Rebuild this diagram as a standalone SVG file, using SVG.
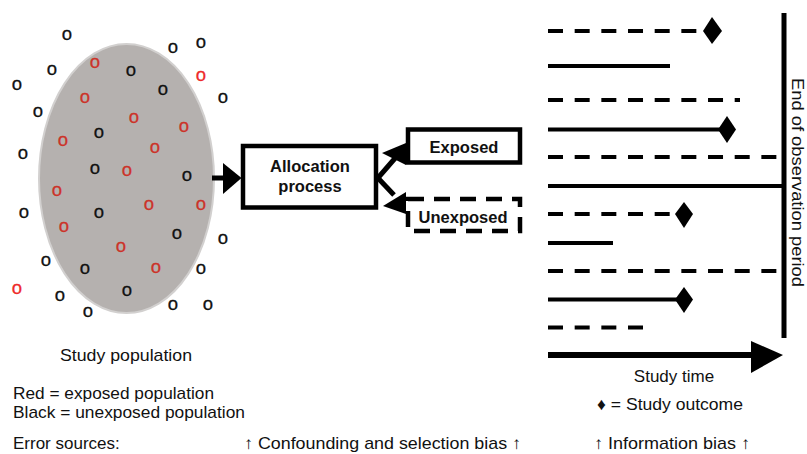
<svg xmlns="http://www.w3.org/2000/svg" width="807" height="454" viewBox="0 0 807 454">
<style>
text{font-family:"Liberation Sans",Arial,Helvetica,sans-serif;fill:#111}
.o{font-size:18.5px;text-anchor:middle;stroke-width:0.3}
.ob{fill:#111;stroke:#111}
.or{fill:#cc3329;stroke:#cc3329}
.oo{fill:#ee2a2a;stroke:#ee2a2a}
.lbl{font-size:17px}
.bold{font-weight:bold;font-size:16.5px;text-anchor:middle}
.box{fill:#fff;stroke:#000;stroke-width:4.5}
.dbox{fill:#fff;stroke:#000;stroke-width:4.5;stroke-dasharray:16 10}
.conn{stroke:#000;stroke-width:5;fill:none}
.tl{stroke:#000;stroke-width:4;fill:none}
.dash{stroke-dasharray:15 11.67}
.head{fill:#000}
</style>
<g id="population">
<ellipse cx="126.5" cy="178.5" rx="87.5" ry="134.5" fill="#b5b1af" stroke="#d2d0cf" stroke-width="2"/>
<g id="dots">
<text class="o ob" x="67" y="40">o</text>
<text class="o ob" x="173" y="53">o</text>
<text class="o ob" x="201" y="48">o</text>
<text class="o ob" x="52" y="75">o</text>
<text class="o ob" x="131" y="76">o</text>
<text class="o ob" x="17" y="90">o</text>
<text class="o ob" x="163" y="95">o</text>
<text class="o ob" x="223" y="103">o</text>
<text class="o ob" x="38" y="117">o</text>
<text class="o ob" x="99" y="138">o</text>
<text class="o ob" x="23" y="159">o</text>
<text class="o ob" x="95" y="174">o</text>
<text class="o ob" x="187" y="181">o</text>
<text class="o ob" x="24" y="218">o</text>
<text class="o ob" x="99" y="218">o</text>
<text class="o ob" x="177" y="239">o</text>
<text class="o ob" x="223" y="244">o</text>
<text class="o ob" x="46" y="266">o</text>
<text class="o ob" x="85" y="274">o</text>
<text class="o ob" x="201" y="274">o</text>
<text class="o ob" x="60" y="301">o</text>
<text class="o ob" x="127" y="296">o</text>
<text class="o ob" x="88" y="317">o</text>
<text class="o ob" x="173" y="310">o</text>
<text class="o ob" x="208" y="310">o</text>
<text class="o or" x="95" y="68">o</text>
<text class="o oo" x="201" y="81">o</text>
<text class="o or" x="85" y="103">o</text>
<text class="o or" x="134" y="123">o</text>
<text class="o or" x="184" y="132">o</text>
<text class="o or" x="63" y="146">o</text>
<text class="o or" x="155" y="153">o</text>
<text class="o or" x="127" y="176">o</text>
<text class="o or" x="57" y="196">o</text>
<text class="o or" x="149" y="210">o</text>
<text class="o or" x="201" y="210">o</text>
<text class="o or" x="64" y="232">o</text>
<text class="o or" x="121" y="252">o</text>
<text class="o or" x="156" y="273">o</text>
<text class="o oo" x="17" y="294">o</text>
</g>
<text class="lbl" x="126" y="361" text-anchor="middle" textLength="132" lengthAdjust="spacingAndGlyphs">Study population</text>
</g>
<g id="allocation">
<rect class="box" x="243" y="146" width="133" height="61.5"/>
<text class="bold" x="310" y="172">Allocation</text>
<text class="bold" x="310" y="191.5">process</text>
</g>
<g id="exposed">
<rect class="box" x="408" y="129.5" width="112" height="33"/>
<text class="bold" x="464" y="153">Exposed</text>
</g>
<g id="unexposed">
<rect class="dbox" x="408" y="199" width="112" height="32"/>
<text class="bold" x="463" y="222.5">Unexposed</text>
</g>
<g id="connectors">
<line class="conn" x1="212" y1="178" x2="226" y2="178"/>
<polygon class="head" points="223,163 241.5,178 223,194"/>
<line class="conn" x1="377" y1="179" x2="397" y2="156"/>
<polygon class="head" points="382,153 406,143 406,165"/>
<line class="conn" x1="377" y1="177" x2="394" y2="195"/>
<polygon class="head" points="383,206 406,192 406,214"/>
</g>
<g id="timeline">
<line class="tl dash" x1="548" y1="31" x2="700" y2="31"/>
<polygon class="head" points="712,17 722,31 712,44 703,31"/>
<line class="tl" x1="548" y1="66" x2="670" y2="66"/>
<line class="tl dash" x1="548" y1="100" x2="740" y2="100"/>
<line class="tl" x1="548" y1="129.5" x2="722" y2="129.5"/>
<polygon class="head" points="727,116 736,129.5 727,143 718,129.5"/>
<line class="tl dash" x1="548" y1="157" x2="777" y2="157"/>
<line class="tl" x1="548" y1="186" x2="784" y2="186"/>
<line class="tl dash" x1="548" y1="214" x2="672" y2="214"/>
<polygon class="head" points="684,202 693,214 684,228 675,214"/>
<line class="tl" x1="548" y1="243" x2="613" y2="243"/>
<line class="tl dash" x1="548" y1="271" x2="777" y2="271"/>
<line class="tl" x1="548" y1="299.5" x2="678" y2="299.5"/>
<polygon class="head" points="684,287 693,299.5 684,313 675,299.5"/>
<line class="tl dash" x1="548" y1="327.5" x2="643" y2="327.5"/>
<line x1="784" y1="13" x2="784" y2="338" stroke="#000" stroke-width="5"/>
<line x1="548" y1="355" x2="755" y2="355" stroke="#000" stroke-width="6"/>
<polygon class="head" points="751,341 783,355 751,373"/>
<text class="lbl" transform="translate(792,182.5) rotate(90)" text-anchor="middle" textLength="209" lengthAdjust="spacingAndGlyphs">End of observation period</text>
<text class="lbl" x="674" y="382" text-anchor="middle">Study time</text>
<text class="lbl" x="597" y="410" textLength="146" lengthAdjust="spacingAndGlyphs">♦ = Study outcome</text>
</g>
<g id="legend">
<text class="lbl" x="13" y="399" textLength="201" lengthAdjust="spacingAndGlyphs">Red = exposed population</text>
<text class="lbl" x="13" y="418" textLength="232" lengthAdjust="spacingAndGlyphs">Black = unexposed population</text>
<text class="lbl" x="13" y="449">Error sources:</text>
<text class="lbl" x="244" y="449" textLength="277" lengthAdjust="spacingAndGlyphs">↑ Confounding and selection bias ↑</text>
<text class="lbl" x="594" y="449" textLength="156" lengthAdjust="spacingAndGlyphs">↑ Information bias ↑</text>
</g>
</svg>
